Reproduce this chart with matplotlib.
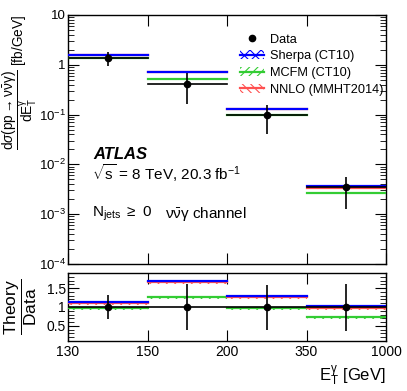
import matplotlib
matplotlib.use("Agg")
import matplotlib.pyplot as plt
import numpy as np
from matplotlib.patches import Patch
from matplotlib.lines import Line2D
from matplotlib.ticker import LogLocator, NullFormatter, MultipleLocator

plt.rcParams['font.family'] = ['Liberation Sans', 'DejaVu Sans']
plt.rcParams['mathtext.fontset'] = 'custom'
plt.rcParams['mathtext.rm'] = 'Liberation Sans'
plt.rcParams['mathtext.it'] = 'Liberation Sans:italic'
plt.rcParams['mathtext.bf'] = 'Liberation Sans:bold'
plt.rcParams['hatch.linewidth'] = 0.8

# ---- data ----
bin_edges_labels = ['130', '150', '200', '350', '1000']
data = [1.40, 0.42, 0.100, 0.0035]
data_err_up = [0.32, 0.60, 0.59, 0.60]     # relative
data_err_dn = [0.33, 0.62, 0.60, 0.64]     # relative
sherpa_ratio = [1.13, 1.70, 1.30, 1.03]
mcfm_ratio = [0.97, 1.26, 0.97, 0.745]
nnlo_ratio = [1.10, 1.67, 1.27, 0.98]
band_rel = 0.03

W, H = 407, 391
fig = plt.figure(figsize=(W/100, H/100), dpi=100)
ax = fig.add_axes([68/W, 1-264/H, (386-68)/W, (264-15)/H])
axr = fig.add_axes([68/W, 1-341/H, (386-68)/W, (341-273)/H])

n = len(data)
data = np.array(data)
series = [
    ('Sherpa (CT10)', sherpa_ratio, 'blue', 'xxx'),
    ('NNLO (MMHT2014)', nnlo_ratio, '#ff5050', '\\\\\\\\'),
    ('MCFM (CT10)', mcfm_ratio, '#33cc33', '////'),
]
order_z = {'Sherpa (CT10)': 5, 'NNLO (MMHT2014)': 4, 'MCFM (CT10)': 3}

for name, ratio, col, hatch in series:
    ratio = np.array(ratio)
    for i in range(n):
        v = data[i]*ratio[i]
        ax.fill_between([i, i+1], v*(1-band_rel), v, facecolor='none',
                        edgecolor=col, hatch=hatch, linewidth=0, zorder=order_z[name]-1)
        ax.plot([i, i+1], [v, v], color=col, lw=1.6, zorder=order_z[name])
        r = ratio[i]
        axr.fill_between([i, i+1], r-0.05, r, facecolor='none',
                         edgecolor=col, hatch=hatch, linewidth=0, zorder=order_z[name]-1)
        axr.plot([i, i+1], [r, r], color=col, lw=1.6, zorder=order_z[name])

centers = np.arange(n) + 0.5
for i in range(n):
    ax.plot([i, i+1], [data[i], data[i]], color='black', lw=1.2, zorder=6)
ax.errorbar(centers, data, yerr=[data*np.array(data_err_dn), data*np.array(data_err_up)],
            fmt='o', color='black', ms=4.5, elinewidth=1.2, capsize=0, zorder=7)
axr.plot([0, n], [1, 1], color='black', lw=1.2, zorder=6)
axr.errorbar(centers, np.ones(n), yerr=[data_err_dn, data_err_up],
             fmt='o', color='black', ms=4.5, elinewidth=1.2, capsize=0, zorder=7)

ax.set_yscale('log')
ax.set_ylim(1e-4, 10)
ax.set_xlim(0, n)
axr.set_xlim(0, n)
axr.set_ylim(0.1, 1.9)

ax.yaxis.set_minor_locator(LogLocator(base=10, subs=np.arange(2, 10), numticks=20))
ax.yaxis.set_minor_formatter(NullFormatter())
ax.set_yticks([1e-4, 1e-3, 1e-2, 1e-1, 1, 10])
ax.set_yticklabels(['$10^{-4}$', '$10^{-3}$', '$10^{-2}$', '$10^{-1}$', '1', '10'])

for a in (ax, axr):
    a.set_xticks(range(n+1))
    a.tick_params(axis='both', which='both', direction='in', top=True, right=True,
                  labelsize=10)
    a.tick_params(axis='x', which='major', length=8)
    a.tick_params(axis='y', which='major', length=8)
    a.tick_params(axis='y', which='minor', length=4)
    a.tick_params(axis='y', pad=1.5)
    for s in a.spines.values():
        s.set_linewidth(1.0)
ax.tick_params(axis='y', labelsize=9.5)
ax.set_xticklabels([])
axr.set_xticklabels(bin_edges_labels)
axr.tick_params(axis='x', pad=3)
axr.set_yticks([0.5, 1, 1.5])
axr.set_yticklabels(['0.5', '1', '1.5'])
axr.yaxis.set_minor_locator(MultipleLocator(0.1))

ax.set_ylabel(r'$\dfrac{\mathrm{d}\sigma(\mathrm{pp}\rightarrow\mathrm{\nu}\bar{\mathrm{\nu}}\mathrm{\gamma})}{\mathrm{dE}_{\mathrm{T}}^{\mathrm{\gamma}}}$ [fb/GeV]',
              fontsize=9.8)
ax.yaxis.set_label_coords(-0.092, 0.73)
axr.set_ylabel(r'$\dfrac{\mathrm{Theory}}{\mathrm{Data}}$', fontsize=12.5)
axr.yaxis.set_label_coords(-0.09, 0.5)
axr.set_xlabel(r'$\mathrm{E}_{\mathrm{T}}^{\mathrm{\gamma}}$ [GeV]', fontsize=12)
axr.xaxis.set_label_coords(1.0, -0.33)
axr.xaxis.label.set_ha('right')

ax.text(0.08, 0.438, 'ATLAS', transform=ax.transAxes, fontsize=12, fontweight='bold',
        fontstyle='italic', va='center')
ax.text(0.075, 0.365, r'$\sqrt{\mathrm{s}}$ = 8 TeV, 20.3 fb$^{-1}$', transform=ax.transAxes,
        fontsize=11, va='center')
ax.text(0.075, 0.20, r'N$_{\mathrm{jets}}$ $\geq$ 0', transform=ax.transAxes, fontsize=11,
        va='center')
ax.text(0.305, 0.20, r'$\mathrm{\nu}\bar{\mathrm{\nu}}\mathrm{\gamma}$ channel',
        transform=ax.transAxes, fontsize=11, va='center')

handles = [
    Line2D([], [], marker='o', color='black', ls='none', ms=4.5),
    (Patch(facecolor='none', edgecolor='blue', hatch='xxx', lw=0), Line2D([], [], color='blue', lw=1.6)),
    (Patch(facecolor='none', edgecolor='#33cc33', hatch='////', lw=0), Line2D([], [], color='#33cc33', lw=1.6)),
    (Patch(facecolor='none', edgecolor='#ff5050', hatch='\\\\\\\\', lw=0), Line2D([], [], color='#ff5050', lw=1.6)),
]
labels = ['Data', 'Sherpa (CT10)', 'MCFM (CT10)', 'NNLO (MMHT2014)']
ax.legend(handles, labels, loc='upper left', bbox_to_anchor=(0.525, 0.945), frameon=False,
          fontsize=9.2, handlelength=1.85, handletextpad=0.5, labelspacing=0.36, borderaxespad=0)

fig.savefig('out.png', dpi=100)
